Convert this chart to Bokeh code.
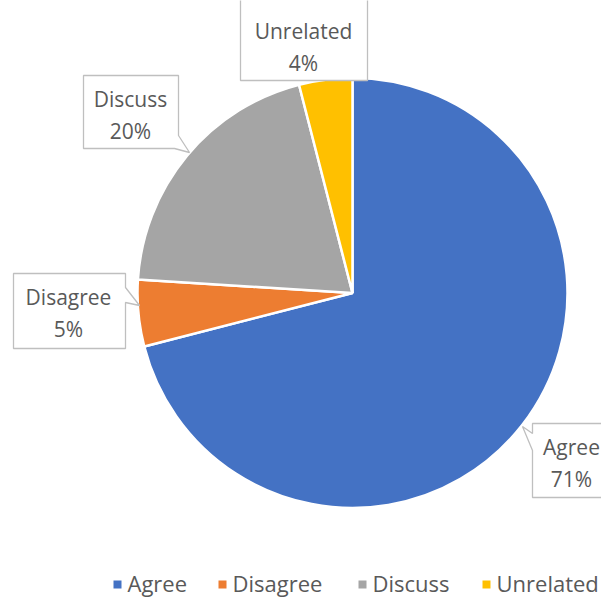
import numpy as np
from bokeh.plotting import figure
from bokeh.models import Range1d
from bokeh.core.properties import value
from bokeh.embed import file_html
from bokeh.resources import INLINE

categories = ["Agree", "Disagree", "Discuss", "Unrelated"]
percents = [71, 5, 20, 4]
colors = ["#4472C4", "#ED7D31", "#A5A5A5", "#FFC000"]

W, H = 601, 602


def px(x):
    return x


def py(y):
    return H - y


p = figure(width=W, height=H, output_backend="svg", toolbar_location=None,
           x_range=Range1d(0, W), y_range=Range1d(0, H),
           x_axis_location=None, y_axis_location=None, min_border=0,
           outline_line_color=None)
p.xgrid.visible = False
p.ygrid.visible = False
p.background_fill_color = "white"
p.border_fill_color = "white"

# pie
cx, cy, r = 352, 292.5, 215
vals = np.array(percents, dtype=float)
frac = vals / vals.sum()
cum = np.concatenate([[0], np.cumsum(frac)])
start = np.pi / 2 - cum[:-1] * 2 * np.pi
end = np.pi / 2 - cum[1:] * 2 * np.pi
p.wedge(x=[px(cx)] * 4, y=[py(cy)] * 4, radius=r, start_angle=list(start),
        end_angle=list(end), direction="clock", fill_color=colors,
        line_color="white", line_width=2.5)

# callouts (picture coordinates)
callouts = {
    "Unrelated": ([240, 367, 367, 240], [-5, -5, 80, 80], (303, 30, 62)),
    "Discuss": ([83, 178, 178, 189, 174, 83], [75, 75, 135, 152, 148, 148], (130, 98, 130)),
    "Disagree": ([13, 125, 125, 139, 125, 125, 13], [273, 273, 287, 305, 302, 348, 348], (68, 296, 328)),
    "Agree": ([532, 620, 620, 532, 532, 522, 532], [423, 423, 497, 497, 450, 426, 433], (571, 446, 478)),
}
for cat, pct in zip(categories, percents):
    xs, ys, (tx, ty1, ty2) = callouts[cat]
    p.patch(x=[px(v) for v in xs], y=[py(v) for v in ys], fill_color="white",
            line_color="#BFBFBF", line_width=1.3)
    p.text(x=[px(tx), px(tx)], y=[py(ty1), py(ty2)], text=[cat, f"{pct}%"],
           text_font=value("Open Sans"), text_font_size="21px",
           text_color="#595959", text_align="center", text_baseline="middle")

# legend
leg_sq_x = [117, 222, 362, 486]
leg_y = 582
for cat, col, sx in zip(categories, colors, leg_sq_x):
    p.rect(x=[px(sx)], y=[py(leg_y + 2)], width=8, height=8, fill_color=col, line_color=None)
    p.text(x=[px(sx + 10)], y=[py(leg_y)], text=[cat], text_font=value("Open Sans"),
           text_font_size="22px", text_color="#595959", text_align="left",
           text_baseline="middle")

open("out.html", "w").write(file_html(p, INLINE))
